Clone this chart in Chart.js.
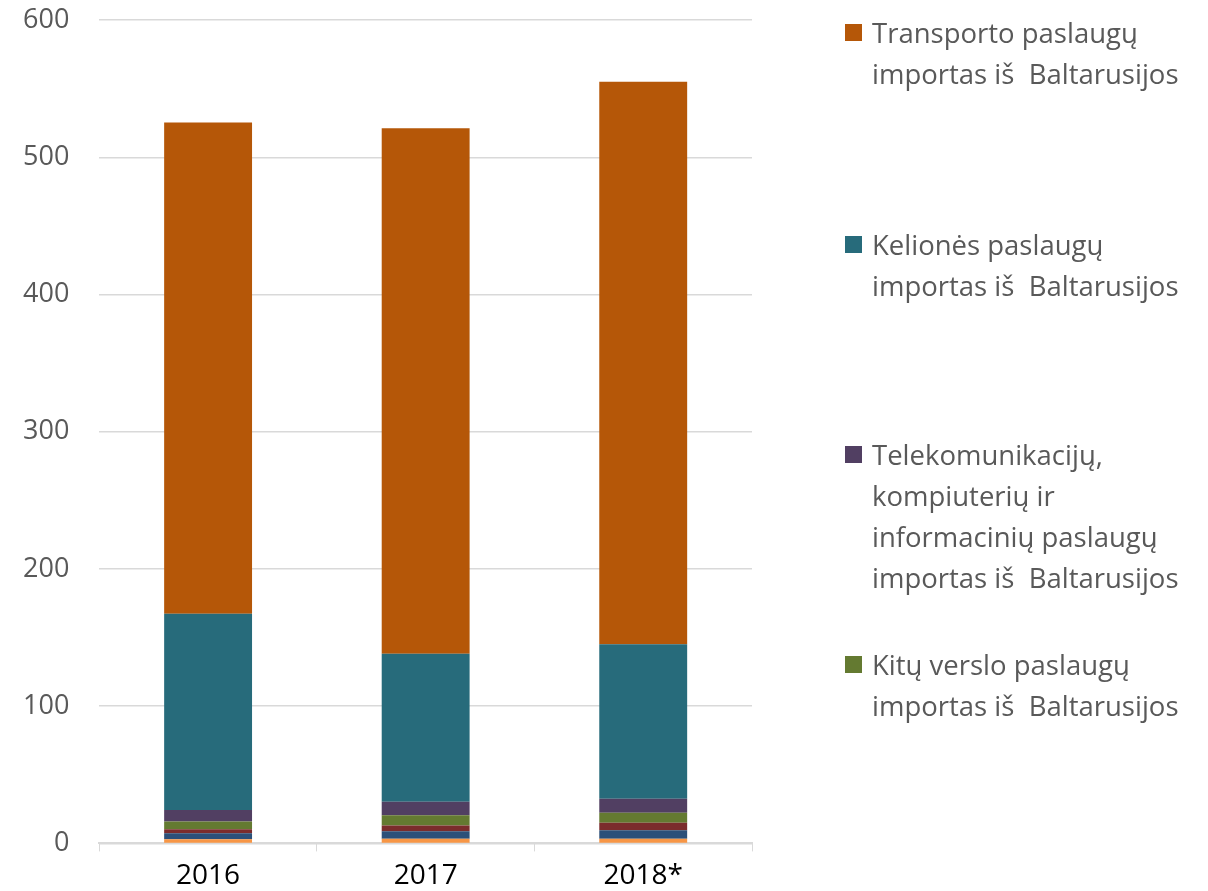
<!DOCTYPE html>
<html>
<head>
<meta charset="utf-8">
<script src="https://cdn.jsdelivr.net/npm/chart.js@4.4.0/dist/chart.umd.min.js"></script>
<style>
  html, body { margin: 0; padding: 0; background: #fff; overflow: hidden; }
  #wrap { position: relative; width: 1208px; height: 891px; overflow: hidden; }
  #chart { position: absolute; left: 0; top: -26px; }
  #legend { position: absolute; left: 845px; top: 0; font-family: "Open Sans", sans-serif; font-size: 27.5px; color: #595959; }
  .item { position: absolute; left: 0; white-space: pre; line-height: 41px; }
  .box { position: absolute; left: 0; top: 12px; width: 17px; height: 17px; }
  .txt { position: absolute; left: 27px; top: 0; }
</style>
</head>
<body>
<div id="wrap">
  <canvas id="chart" width="1208" height="930"></canvas>
  <div id="legend"></div>
</div>
<script>
const categories = ["2016", "2017", "2018*"];

// stacked from bottom to top
const seriesNames = [
  "Kitos paslaugos",
  "Finansinių paslaugų importas iš  Baltarusijos",
  "Statybos paslaugų importas iš  Baltarusijos",
  "Kitų verslo paslaugų importas iš  Baltarusijos",
  "Telekomunikacijų, kompiuterių ir informacinių paslaugų importas iš  Baltarusijos",
  "Kelionės paslaugų importas iš  Baltarusijos",
  "Transporto paslaugų importas iš  Baltarusijos"
];
const otherValues     = [3.0, 3.4, 3.4];
const financeValues   = [4.4, 5.5, 6.1];
const buildValues     = [2.9, 4.2, 5.6];
const businessValues  = [5.6, 7.5, 7.3];
const telecomValues   = [8.5, 9.7, 10.2];
const travelValues    = [143, 108, 112.6];
const transportValues = [358, 383, 410];
const seriesValues = [otherValues, financeValues, buildValues, businessValues, telecomValues, travelValues, transportValues];
const seriesColors = ["#F79646", "#2C5079", "#7B2C2C", "#647A31", "#513F62", "#276B7B", "#B55708"];

// legend (as visible in the picture)
const legendSeries = [6, 5, 4, 3];
const legendLines = [
  ["Transporto paslaugų", "importas iš  Baltarusijos"],
  ["Kelionės paslaugų", "importas iš  Baltarusijos"],
  ["Telekomunikacijų,", "kompiuterių ir", "informacinių paslaugų", "importas iš  Baltarusijos"],
  ["Kitų verslo paslaugų", "importas iš  Baltarusijos"]
];
const legendTops = [12, 224, 434, 644];

const yTicks = [0, 100, 200, 300, 400, 500, 600];

const legendEl = document.getElementById("legend");
legendSeries.forEach((si, i) => {
  const item = document.createElement("div");
  item.className = "item";
  item.style.top = legendTops[i] + "px";
  const box = document.createElement("div");
  box.className = "box";
  box.style.background = seriesColors[si];
  const txt = document.createElement("div");
  txt.className = "txt";
  txt.textContent = legendLines[i].join("\n");
  item.appendChild(box);
  item.appendChild(txt);
  legendEl.appendChild(item);
});

new Chart(document.getElementById("chart"), {
  type: "bar",
  data: {
    labels: categories,
    datasets: seriesNames.map((name, i) => ({
      label: name,
      data: seriesValues[i],
      backgroundColor: seriesColors[i],
      borderWidth: 0,
      barPercentage: 0.404,
      categoryPercentage: 1.0
    }))
  },
  options: {
    responsive: false,
    animation: false,
    layout: { padding: { top: 0, right: 456, left: -7, bottom: 3 } },
    plugins: {
      legend: { display: false },
      tooltip: { enabled: false }
    },
    scales: {
      x: {
        stacked: true,
        grid: { display: true, drawOnChartArea: false, drawTicks: true, tickLength: 8, color: "#D9D9D9" },
        border: { display: true, color: "#D9D9D9", width: 2 },
        ticks: { color: "#000", font: { family: "Open Sans", size: 28 }, padding: 8 }
      },
      y: {
        stacked: true,
        min: 0,
        max: 600,
        afterBuildTicks: (axis) => { axis.ticks = yTicks.map(v => ({ value: v })); },
        grid: { color: "#D9D9D9", lineWidth: 1.5, drawTicks: false },
        border: { display: false },
        ticks: { color: "#595959", font: { family: "Open Sans", size: 27 }, padding: 30 }
      }
    }
  }
});
</script>
</body>
</html>
